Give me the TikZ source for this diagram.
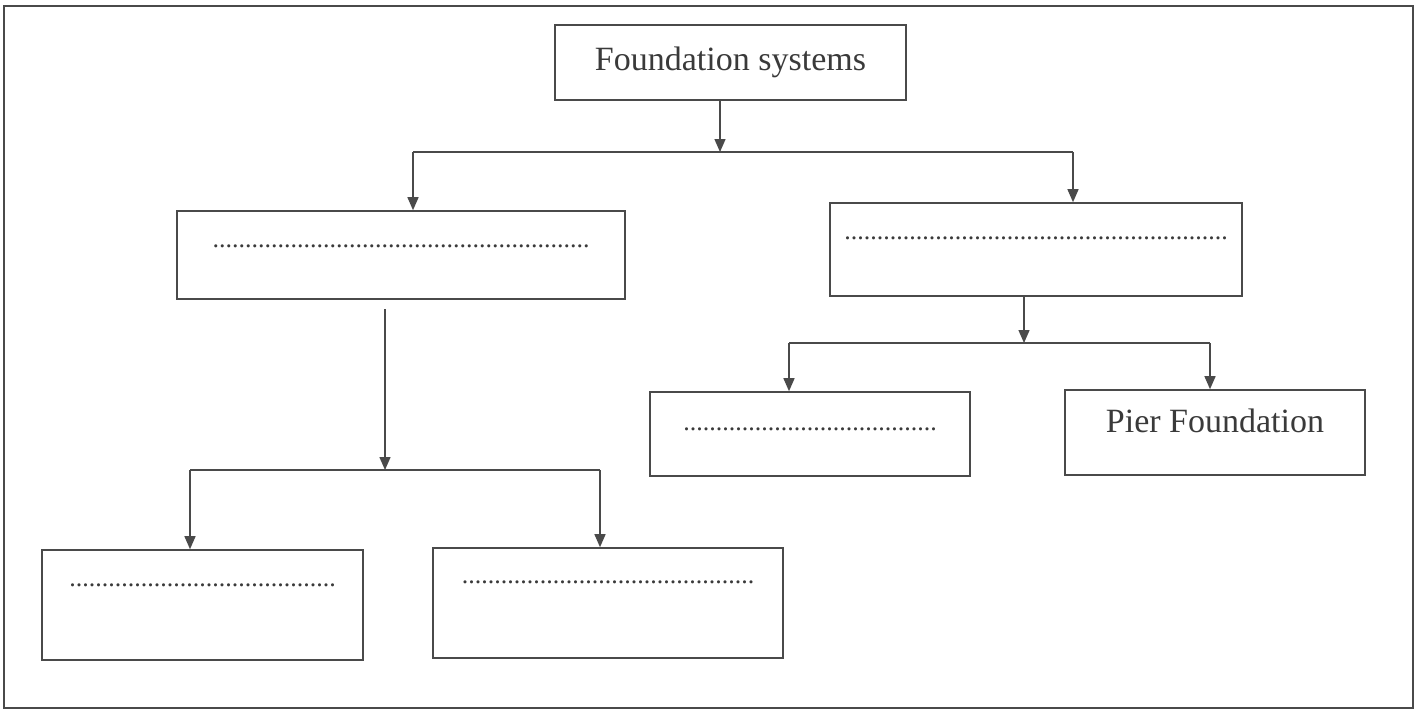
\documentclass[tikz,border=0pt]{standalone}
\usepackage{fontspec}
\setmainfont{Liberation Serif}
\usetikzlibrary{arrows.meta}
\definecolor{inkc}{HTML}{3A3A3A}
\definecolor{linec}{HTML}{4A4A4A}
\newcommand{\dotrow}[1]{\fontsize{26}{30}\selectfont\foreach \i in {1,...,#1}{.}}
\tikzset{
  box/.style={draw=linec, line width=1.6pt, inner sep=0pt, text=inkc, font=\fontsize{34}{40}\selectfont},
  dotsup/.style={text height=0pt, text depth=#1},
  conn/.style={draw=linec, line width=1.4pt},
  arr/.style={conn, -{Triangle[width=11pt,length=13pt]}},
}
\begin{document}
\begin{tikzpicture}[x=1pt,y=-1pt]
\useasboundingbox (0,0) rectangle (1418,716);
\draw[draw=linec, line width=1.3pt] (4,6) rectangle (1413,708);
% boxes
\node[box, minimum width=351pt, minimum height=75pt] (top) at (730.5,62.5) {Foundation systems};
\node[box, dotsup=16pt, minimum width=448pt, minimum height=88pt] (L1) at (401,255) {\dotrow{58}};
\node[box, dotsup=20pt, minimum width=412pt, minimum height=93pt] (R1) at (1036,249.5) {\dotrow{59}};
\node[box, dotsup=8pt, minimum width=320pt, minimum height=84pt] (R2) at (810,434) {\dotrow{39}};
\node[box, text height=24pt, text depth=24pt, minimum width=300pt, minimum height=85pt] (P) at (1215,432.5) {Pier Foundation};
\node[box, dotsup=38pt, minimum width=321pt, minimum height=110pt] (BL) at (202.5,605) {\dotrow{41}};
\node[box, dotsup=40pt, minimum width=350pt, minimum height=110pt] (BR) at (608,603) {\dotrow{45}};
% junction coordinates
\coordinate (j1) at (720,152);
\coordinate (a1) at (413,152);
\coordinate (b1) at (1073,152);
\coordinate (s2) at (385,309);
\coordinate (j2) at (385,470);
\coordinate (a2) at (190,470);
\coordinate (b2) at (600,470);
\coordinate (j3) at (1024,343);
\coordinate (a3) at (789,343);
\coordinate (b3) at (1210,343);
% connectors
\draw[arr] (top.south -| j1) -- (j1);
\draw[conn] (a1) -- (b1);
\draw[arr] (a1) -- (a1 |- L1.north);
\draw[arr] (b1) -- (b1 |- R1.north);
\draw[arr] (s2) -- (j2);
\draw[conn] (a2) -- (b2);
\draw[arr] (a2) -- (a2 |- BL.north);
\draw[arr] (b2) -- (b2 |- BR.north);
\draw[arr] (R1.south -| j3) -- (j3);
\draw[conn] (a3) -- (b3);
\draw[arr] (a3) -- (a3 |- R2.north);
\draw[arr] (b3) -- (b3 |- P.north);
\end{tikzpicture}
\end{document}
